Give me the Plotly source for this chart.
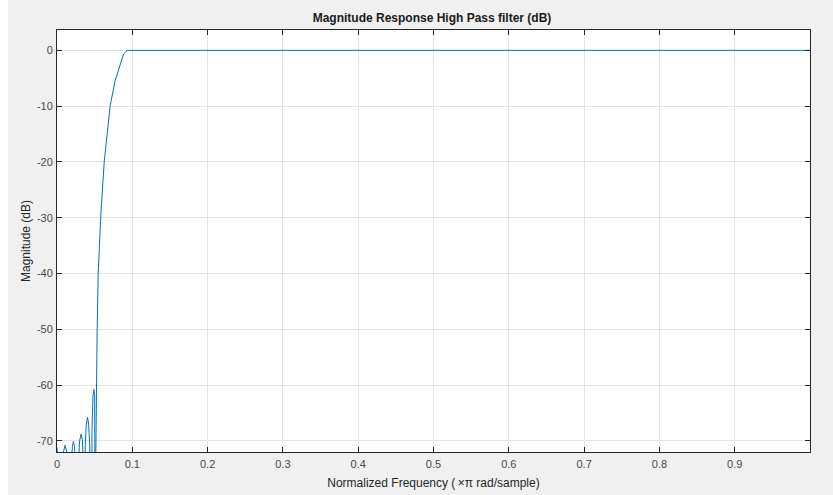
import plotly.graph_objects as go

# Normalized frequency (x pi rad/sample) and magnitude (dB)
freq = [0.0000, 0.0015, 0.0025,
        0.0060, 0.0085, 0.0107, 0.0130, 0.0150, 0.0160,
        0.0190, 0.0205, 0.0218, 0.0232, 0.0245, 0.0267,
        0.0285, 0.0300, 0.0320, 0.0338, 0.0350, 0.0360,
        0.0375, 0.0388, 0.0405, 0.0420, 0.0435, 0.0453,
        0.0465, 0.0478, 0.0490, 0.0500, 0.0507, 0.0513,
        0.0516, 0.0520, 0.0533, 0.0547, 0.0580, 0.0627, 0.0705,
        0.0773, 0.0840, 0.0884, 0.0930, 0.0970, 1.0000]
mag_db = [-71.2, -74.0, -110.0,
          -76.0, -72.0, -70.8, -72.0, -76.0, -110.0,
          -74.0, -71.0, -70.1, -71.0, -74.0, -110.0,
          -74.0, -70.0, -68.8, -70.0, -74.0, -110.0,
          -71.0, -67.0, -65.8, -67.0, -71.0, -110.0,
          -68.0, -62.0, -60.8, -62.0, -68.0, -110.0,
          -72.0, -60.0, -50.0, -40.0, -30.0, -20.0, -10.0,
          -5.4, -2.4, -0.65, -0.05, 0.0, 0.0]

x_ticks = [0, 0.1, 0.2, 0.3, 0.4, 0.5, 0.6, 0.7, 0.8, 0.9]
x_tick_labels = ["0", "0.1", "0.2", "0.3", "0.4", "0.5", "0.6", "0.7", "0.8", "0.9"]
y_ticks = [0, -10, -20, -30, -40, -50, -60, -70]
y_tick_labels = ["0", "-10", "-20", "-30", "-40", "-50", "-60", "-70"]

FONT = "Liberation Sans, Arial, sans-serif"

fig = go.Figure()
fig.add_trace(go.Scatter(x=freq, y=mag_db, mode="lines",
                         line=dict(color="#0072BD", width=1), showlegend=False))

axis_common = dict(
    showline=True, linecolor="#262626", linewidth=1, mirror="ticks",
    ticks="inside", ticklen=5, tickcolor="#262626", tickwidth=1,
    showgrid=True, gridcolor="#e3e3e3", gridwidth=1, zeroline=False,
    automargin=False,
    tickfont=dict(family=FONT, size=11, color="#4a4a4a"),
)

PLOT_W = 833 - 57 - 23
fig.update_layout(
    width=833, height=495,
    paper_bgcolor="#f0f0f0", plot_bgcolor="#ffffff",
    margin=dict(l=57, r=23, t=30, b=43, pad=0),
    title=dict(text="<b>Magnitude Response High Pass filter (dB)</b>",
               x=432 / 833, xanchor="center", y=1 - 18 / 495, yanchor="middle",
               font=dict(family=FONT, size=12, color="#1a1a1a")),
    xaxis=dict(range=[0, 1.0], tickvals=x_ticks, ticktext=x_tick_labels,
               ticklabelstandoff=2,
               title=dict(text="Normalized Frequency (\u2009\u00d7\u03c0 rad/sample)", standoff=9,
                          font=dict(family=FONT, size=12, color="#262626")),
               **axis_common),
    yaxis=dict(range=[-72.0, 3.65], tickvals=y_ticks, ticktext=y_tick_labels,
               ticklabelstandoff=1,
               title=dict(text="Magnitude (dB)", standoff=3,
                          font=dict(family=FONT, size=12, color="#262626")),
               **axis_common),
    shapes=[dict(type="rect", xref="paper", yref="paper",
                 x0=-57 / PLOT_W, x1=-49 / PLOT_W, y0=-0.2, y1=1.2,
                 fillcolor="#ffffff", line=dict(width=0), layer="above")],
)

fig.write_html("out.html", config={"displayModeBar": False},
               post_script="document.body.style.margin='0';document.body.style.background='#f0f0f0';")
